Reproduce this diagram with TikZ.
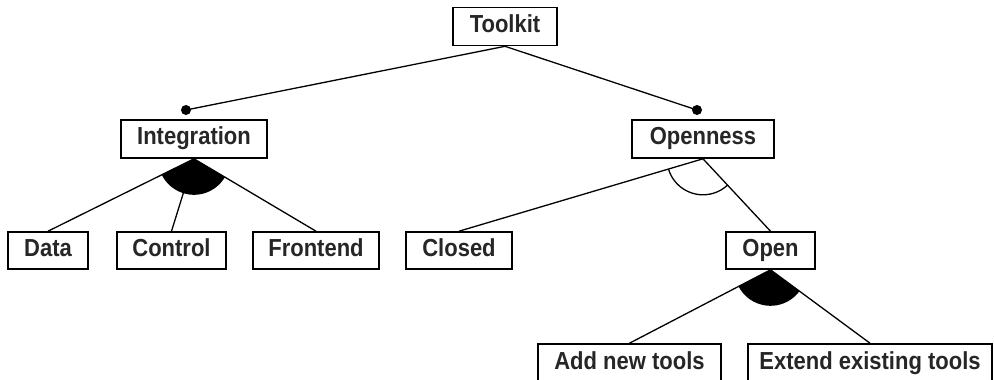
\documentclass[tikz,border=0pt]{standalone}
\usepackage{fontspec}
\usepackage{graphicx}
\setmainfont{Liberation Sans}
\usetikzlibrary{calc}
\newcommand\stretchtxt[1]{\scalebox{1}[1.12]{#1}}
\begin{document}
\begin{tikzpicture}[x=1pt,y=-1pt,
  box/.style={draw=black, line width=1.6pt, rectangle, inner sep=0pt,
    font=\fontsize{22}{26}\selectfont\bfseries, text=black!85,
    text height=15pt, text depth=4pt, minimum height=38pt},
  conn/.style={line width=1.3pt, black},
  mdot/.style={circle, fill=black, inner sep=0pt, minimum size=10pt}]
\useasboundingbox[fill=white] (0,0) rectangle (994,380);

% nodes
\node[box, minimum width=104pt] (tk) at (505,26.5) {\stretchtxt{Toolkit}};
\node[box, minimum width=146pt] (int) at (194,139) {\stretchtxt{Integration}};
\node[box, minimum width=142pt] (opn) at (703,139) {\stretchtxt{Openness}};
\node[box, minimum width=80pt, minimum height=37pt] (data) at (48,250.5) {\stretchtxt{Data}};
\node[box, minimum width=109pt, minimum height=37pt] (ctrl) at (171.5,250.5) {\stretchtxt{Control}};
\node[box, minimum width=126pt, minimum height=37pt] (front) at (316,250.5) {\stretchtxt{Frontend}};
\node[box, minimum width=106pt, minimum height=37pt] (closed) at (459,250.5) {\stretchtxt{Closed}};
\node[box, minimum width=89pt, minimum height=37pt] (open) at (770.5,250.5) {\stretchtxt{Open}};
\node[box, minimum width=183pt, minimum height=39pt] (add) at (629.5,363.5) {\stretchtxt{Add new tools}};
\node[box, minimum width=244pt, minimum height=39pt] (ext) at (870,363.5) {\stretchtxt{Extend existing tools}};

% mandatory dots
\node[mdot] (idot) at (186,110) {};
\node[mdot] (odot) at (697,110) {};
\draw[conn] (tk.south) -- (idot.center);
\draw[conn] (tk.south) -- (odot.center);

% filled fans (or-groups)
\fill let \p1=($(data.north)-(int.south)$), \p2=($(front.north)-(int.south)$),
  \n1={atan2(\y1,\x1)}, \n2={atan2(\y2,\x2)} in
  (int.south) -- ++(\n1:36pt) arc[start angle=\n1, end angle=\n2, radius=36pt] -- cycle;
\fill let \p1=($(add.north)-(open.south)$), \p2=($(ext.north)-(open.south)$),
  \n1={atan2(\y1,\x1)}, \n2={atan2(\y2,\x2)} in
  (open.south) -- ++(\n1:36pt) arc[start angle=\n1, end angle=\n2, radius=36pt] -- cycle;
% open arc (alternative group)
\draw[conn] let \p1=($(closed.north)-(opn.south)$), \p2=($(open.north)-(opn.south)$),
  \n1={atan2(\y1,\x1)}, \n2={atan2(\y2,\x2)} in
  (opn.south) ++(\n1:36pt) arc[start angle=\n1, end angle=\n2, radius=36pt];

% connectors
\draw[conn] (int.south) -- (data.north);
\draw[conn] (int.south) -- (ctrl.north);
\draw[conn] (int.south) -- (front.north);
\draw[conn] (opn.south) -- (closed.north);
\draw[conn] (opn.south) -- (open.north);
\draw[conn] (open.south) -- (add.north);
\draw[conn] (open.south) -- (ext.north);
\end{tikzpicture}
\end{document}
